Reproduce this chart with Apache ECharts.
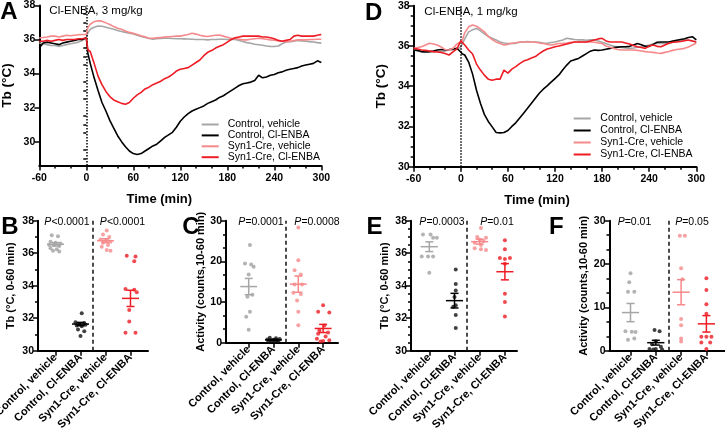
<!DOCTYPE html>
<html><head><meta charset="utf-8">
<script src="https://cdn.jsdelivr.net/npm/echarts@6/dist/echarts.min.js"></script>
<style>html,body{margin:0;padding:0;background:#fff}#c{width:725px;height:428px}</style>
</head><body><div id="c"></div>
<script>
// ---------- DATA ----------
const groups = ['Control, vehicle', 'Control, Cl-ENBA', 'Syn1-Cre, vehicle', 'Syn1-Cre, Cl-ENBA'];

const minutes = [-60,-55,-50,-45,-40,-35,-30,-25,-20,-15,-10,-5,
  0,2,
  5,10,15,20,25,30,35,40,45,50,55,60,
  65,70,75,80,85,90,95,100,105,110,115,120,
  125,130,135,140,145,150,155,160,165,170,175,180,
  185,190,195,200,205,210,215,220,225,230,235,240,
  245,250,255,260,265,270,275,280,285,290,295,300];

// Panel A (3 mg/kg) body temperature
const a_ctlVeh = [35.8,35.75,35.7,35.65,35.65,35.6,35.65,35.7,35.75,35.8,35.85,35.95,
  36.1,36.4,
  36.6,36.72,36.8,36.78,36.72,36.66,36.6,36.53,36.47,36.42,36.37,36.33,
  36.25,36.18,36.12,36.06,36.02,36.05,36.07,36.08,36.08,36.06,36.05,36.05,
  36.04,36.03,36.02,36.0,36.0,36.0,35.98,36.0,36.0,36.02,36.02,36.0,
  36.02,36.0,35.95,35.88,35.82,35.78,35.72,35.69,35.66,35.62,35.6,35.59,
  35.62,35.75,35.86,35.88,35.9,35.94,35.92,35.9,35.88,35.86,35.82,35.79];
const a_ctlDrug = [35.5,35.8,35.85,35.8,35.75,35.7,35.8,35.85,35.9,35.95,36.0,36.0,
  36.1,35.2,
  34.6,33.75,33.0,32.3,31.8,31.25,30.8,30.35,30.0,29.7,29.45,29.3,
  29.25,29.3,29.45,29.6,29.75,29.85,30.05,30.25,30.4,30.55,30.85,31.2,
  31.45,31.65,31.8,31.9,32.0,32.1,32.25,32.35,32.45,32.6,32.7,32.85,
  33.0,33.15,33.3,33.4,33.45,33.5,33.6,33.9,33.75,33.8,33.9,33.95,
  34.05,34.1,34.2,34.25,34.3,34.35,34.45,34.5,34.55,34.6,34.75,34.65];
const a_synVeh = [36.1,36.12,36.15,36.2,36.2,36.15,36.2,36.25,36.22,36.25,36.28,36.3,
  36.3,36.7,
  36.9,37.05,37.1,37.08,36.98,36.88,36.76,36.66,36.6,36.5,36.42,36.37,
  36.3,36.22,36.16,36.08,36.08,36.1,36.12,36.14,36.16,36.18,36.2,36.2,
  36.25,36.3,36.37,36.32,36.25,36.2,36.18,36.22,36.25,36.27,36.2,36.14,
  36.08,36.06,36.02,35.98,35.98,36.02,36.05,36.08,36.05,36.02,35.98,35.96,
  35.93,35.9,35.88,35.9,35.94,35.98,35.98,35.98,36.0,36.0,36.02,36.02];
const a_synDrug = [35.9,35.9,35.95,35.9,35.95,36.0,35.95,36.0,36.0,36.0,36.05,36.05,
  36.1,35.4,
  35.3,34.6,33.85,33.35,32.95,32.65,32.45,32.35,32.25,32.2,32.3,32.55,
  32.75,32.9,33.1,33.2,33.35,33.45,33.55,33.7,33.8,33.95,34.15,34.25,
  34.3,34.35,34.5,34.65,34.8,35.05,35.25,35.35,35.5,35.6,35.7,35.85,
  36.0,36.1,36.15,36.2,36.2,36.2,36.2,36.2,36.15,36.15,36.1,36.05,
  35.95,35.9,35.95,36.0,36.2,36.25,36.2,36.2,36.2,36.2,36.25,36.3];

// Panel D (1 mg/kg) body temperature
const d_ctlVeh = [35.8,35.75,35.7,35.7,35.7,35.7,35.75,35.7,35.75,35.8,35.8,35.85,
  35.95,36.1,
  36.35,36.7,36.8,36.87,36.75,36.6,36.47,36.38,36.3,36.2,36.15,36.12,
  36.12,36.13,36.18,36.2,36.22,36.2,36.2,36.18,36.15,36.13,36.17,36.2,
  36.25,36.3,36.38,36.35,36.32,36.3,36.3,36.28,36.3,36.3,36.25,36.18,
  36.12,36.05,35.98,35.95,35.92,35.9,35.88,35.9,35.94,35.96,36.0,36.05,
  36.1,36.13,36.13,36.12,36.13,36.18,36.22,36.28,36.3,36.28,36.25,36.2];
const d_ctlDrug = [35.8,35.78,35.72,35.7,35.72,35.75,35.8,35.82,35.8,35.82,35.85,35.88,
  35.7,35.6,
  35.55,35.2,34.6,33.8,33.15,32.6,32.25,31.98,31.7,31.68,31.7,31.8,
  32.0,32.18,32.42,32.66,32.9,33.15,33.4,33.65,33.85,34.02,34.2,34.38,
  34.56,34.82,35.05,35.25,35.32,35.38,35.5,35.62,35.74,35.8,35.78,35.8,
  35.84,35.88,35.92,35.94,35.96,35.96,35.98,36.05,36.12,36.06,35.98,35.98,
  36.08,36.18,36.2,36.2,36.2,36.24,36.28,36.32,36.36,36.42,36.46,36.3];
const d_synVeh = [35.88,35.92,35.96,36.05,36.13,36.1,36.05,35.95,35.82,35.8,35.88,36.1,
  36.2,36.3,
  36.65,36.95,37.04,36.98,36.85,36.7,36.48,36.32,36.2,36.12,36.05,36.08,
  36.13,36.16,36.2,36.2,36.2,36.2,36.18,36.15,36.12,36.08,36.05,36.08,
  36.12,36.13,36.15,36.18,36.2,36.2,36.2,36.2,36.2,36.18,36.15,36.12,
  36.0,35.94,35.88,35.82,35.8,35.8,35.8,35.8,35.78,35.75,35.72,35.7,
  35.68,35.65,35.63,35.68,35.72,35.78,35.82,35.85,35.88,35.95,36.05,36.13];
const d_synDrug = [35.88,35.85,35.8,35.78,35.75,35.72,35.7,35.68,35.62,35.55,35.7,35.85,
  36.25,36.2,
  36.05,35.8,35.6,35.1,34.8,34.55,34.35,34.3,34.35,34.35,34.8,34.65,
  34.85,34.97,35.12,35.25,35.32,35.4,35.47,35.62,35.75,35.85,35.9,35.96,
  36.0,36.05,36.1,36.15,36.2,36.2,36.2,36.2,36.25,36.3,36.35,36.38,
  36.25,36.2,36.2,36.2,36.2,36.15,36.1,36.02,35.96,35.92,35.88,36.0,
  36.05,35.98,35.96,36.05,36.13,36.18,36.2,36.22,36.26,36.3,36.25,36.2];

const tempTicks = [30,32,34,36,38];
const tempMinorTicksA = [29,29.5,30.5,31,31.5,32.5,33,33.5,34.5,35,35.5,36.5,37,37.5];

// Panel B: Tb 0-60 min, 3 mg/kg
const b_values = [
  [37.1,37.05,36.7,36.65,36.6,36.5,36.5,36.45,36.3,36.25,36.15,36.1],
  [32.3,31.75,31.7,31.65,31.6,31.55,31.5,31.3,31.2,30.9],
  [37.4,37.15,37.0,36.85,36.8,36.7,36.65,36.5,36.4,36.2,36.15],
  [35.85,35.8,35.5,33.8,33.75,33.6,32.5,31.8,31.1,31.1]];
const b_jitter = [
  [-0.15,0.1,-0.2,0,0.2,-0.25,-0.05,0.15,-0.2,0.05,-0.1,0.15],
  [0.05,-0.2,0.15,-0.05,0.2,-0.15,0.05,-0.1,0.15,0],
  [0.05,-0.1,0.15,-0.2,0.05,0.2,-0.1,0.1,-0.15,0.05,0.2],
  [-0.15,0.2,0.15,-0.2,0.15,0.25,-0.05,-0.05,-0.2,0.2]];
const b_mean = [36.55,31.64,36.77,33.22];
const b_sem = [0.1,0.1,0.12,0.5];

// Panel C: activity 10-60 min, 3 mg/kg
const c_values = [
  [24.0,19.5,19.2,18.7,16.8,11.8,11.3,7.6,6.4,3.2],
  [1.2,1.1,0.9,0.8,0.7,0.6,0.5,0.4,0.3,0.3],
  [28.3,20.3,17.8,16.8,14.3,14.3,12.3,12.0,10.4,7.6,4.3],
  [9.2,7.6,7.4,4.2,3.0,2.5,2.2,1.5,1.0,0.6,0.4,0.3]];
const c_jitter = [
  [0.05,-0.15,0.1,0.2,0,0.15,-0.05,0.05,-0.1,0],
  [-0.15,0.1,0.25,-0.25,0,0.15,-0.1,0.2,-0.2,0.05],
  [0,0,-0.15,0.1,-0.15,0.15,-0.2,0.1,-0.05,0,0],
  [0,-0.2,0.25,0.05,-0.15,0.2,-0.2,0.1,-0.25,0.25,0,-0.1]];
const c_mean = [13.8,0.7,14.4,3.5];
const c_sem = [2.0,0.15,2.0,1.0];

// Panel E: Tb 0-60 min, 1 mg/kg
const e_values = [
  [37.15,37.15,36.95,36.95,35.8,35.8,35.8,34.8],
  [35.0,34.1,33.7,33.3,32.8,32.7,32.2,31.4],
  [37.55,37.0,36.95,36.85,36.75,36.65,36.5,36.3,36.25,36.2],
  [36.8,36.25,35.7,35.65,35.7,35.35,33.5,33.0,32.1]];
const e_jitter = [
  [-0.25,0.05,0.15,0.3,-0.3,-0.05,0.15,0],
  [0.05,0.05,0.05,0,0.05,-0.05,0.05,0.05],
  [0.05,-0.1,0.25,0,0.15,-0.2,0.05,-0.2,0.05,0.25],
  [0,0,-0.2,0,0.2,0,0,0,0]];
const e_mean = [36.4,33.08,36.71,34.86];
const e_sem = [0.3,0.45,0.15,0.5];

// Panel F: activity 10-60 min, 1 mg/kg
const f_values = [
  [17.9,15.8,13.6,13.6,4.5,4.4,4.3,2.8,2.5],
  [4.8,4.5,2.2,1.5,0.9,0.4,0.4,0.3,0.3],
  [26.5,26.5,19.0,16.5,7.3,5.9,2.8,2.1],
  [16.7,14.0,10.7,8.5,3.2,3.2,3.2,1.9,1.9,0.4]];
const f_jitter = [
  [0,-0.05,-0.1,0.15,-0.2,0.05,0.2,0.15,-0.1],
  [-0.05,0.15,0,-0.15,0.2,-0.25,0,0.25,-0.1],
  [-0.05,0.15,0,0.05,0,0,0,0],
  [0,0,0,0,-0.2,0,0.2,-0.2,0.15,0]];
const f_mean = [8.8,1.85,13.5,6.2];
const f_sem = [2.1,0.55,2.9,1.9];

const pLabels = [['P<0.0001','P<0.0001'],['P=0.0001','P=0.0008'],['P=0.0003','P=0.01'],['P=0.01','P=0.05']];

// ---------- STYLE ----------
const FONT = '"Liberation Sans", Arial, sans-serif';
const lineColors = ['#a6a6a6', '#000000', '#f5898b', '#ee1c24'];
const dotColors = ['#a0a0a0', '#111111', '#f5898b', '#ee1c24'];
const AX = {color:'#000', width:2};
const TK = {color:'#000', width:1.5};
const tickLabel = {color:'#000', fontFamily:FONT, fontWeight:'bold', fontSize:10.5};

function timeX(gi, padR) {
  return {type:'value', gridIndex:gi, min:-60, max:300, interval:60,
    axisLine:{onZero:false, lineStyle:AX},
    axisTick:{length:5, lineStyle:TK},
    minorTick:{show:true, splitNumber:3, length:3, lineStyle:TK},
    splitLine:{show:false}, minorSplitLine:{show:false},
    axisLabel:Object.assign({margin:7}, tickLabel),
    name:'Time (min)', nameLocation:'middle', nameGap:27,
    nameTextStyle:{color:'#000', fontFamily:FONT, fontWeight:'bold', fontSize:13, padding:[0,padR,0,0]}};
}
function catX(gi, min, max) {
  return {type:'value', gridIndex:gi, min:min, max:max,
    axisLine:{onZero:false, lineStyle:AX},
    axisTick:{length:5, customValues:[1,2,3,4], lineStyle:TK},
    axisLabel:Object.assign({customValues:[1,2,3,4], rotate:45, margin:5,
      formatter:function(v){return groups[Math.round(v)-1];}}, tickLabel, {fontSize:11}),
    splitLine:{show:false}};
}
function valY(gi, min, max, interval, minorSplit, name, gap) {
  return {type:'value', gridIndex:gi, min:min, max:max, interval:interval, position:'left',
    axisLine:{show:true, onZero:false, lineStyle:AX},
    axisTick:{length:5, lineStyle:TK},
    minorTick:{show:true, splitNumber:minorSplit, length:3, lineStyle:TK},
    splitLine:{show:false}, minorSplitLine:{show:false},
    axisLabel:Object.assign({margin:4}, tickLabel),
    name:name, nameLocation:'middle', nameGap:gap, nameRotate:90,
    nameTextStyle:{color:'#000', fontFamily:FONT, fontWeight:'bold', fontSize:11}};
}

const grids = [
  {left:39.3, top:5.5, width:282, height:160},    // A
  {left:413.7, top:5.7, width:282.6, height:161}, // D
  {left:38, top:220.7, width:110, height:130},    // B
  {left:226, top:220.7, width:112, height:122},   // C
  {left:411, top:220.7, width:106, height:130},   // E
  {left:609.5, top:220.7, width:115.5, height:130}// F
].map(g => Object.assign({containLabel:false, outerBoundsMode:'none'}, g));

const xAxes = [timeX(0, 42), timeX(1, 36),
  catX(2, 0.3, 4.7), catX(3, 0.085, 4.6), catX(4, 0.274, 4.48), catX(5, 0.17, 4.735)];

const yAxes = [
  {type:'value', gridIndex:0, min:28.6, max:38, position:'left',
    axisLine:{show:true, onZero:false, lineStyle:AX},
    axisTick:{length:5, customValues:tempTicks, lineStyle:TK},
    axisLabel:Object.assign({customValues:tempTicks, margin:4}, tickLabel),
    splitLine:{show:false},
    name:'Tb (°C)', nameLocation:'middle', nameGap:25, nameRotate:90,
    nameTextStyle:{color:'#000', fontFamily:FONT, fontWeight:'bold', fontSize:13.5}},
  {type:'value', gridIndex:0, min:28.6, max:38, position:'left',
    axisLine:{show:false}, axisLabel:{show:false}, splitLine:{show:false},
    axisTick:{show:true, length:3, customValues:tempMinorTicksA, lineStyle:TK}},
  Object.assign(valY(1, 30, 38, 2, 4, 'Tb (°C)', 25), {nameTextStyle:{color:'#000', fontFamily:FONT, fontWeight:'bold', fontSize:13.5}}),
  valY(2, 30, 38, 2, 2, 'Tb (°C, 0-60 min)', 22),
  valY(3, 0, 30, 10, 3, 'Activity (counts,10-60 min)', 20),
  valY(4, 30, 38, 2, 4, 'Tb (°C, 0-60 min)', 21),
  valY(5, 0, 30, 10, 3, 'Activity (counts,10-60 min)', 20)
];

const series = [];
function addLines(xi, yi, arrs, withZero) {
  arrs.forEach(function(vals, k) {
    const s = {type:'line', name:groups[k], xAxisIndex:xi, yAxisIndex:yi, showSymbol:false, symbol:'none',
      lineStyle:{color:lineColors[k], width:1.6}, itemStyle:{color:lineColors[k]},
      data: minutes.map(function(t, i){return [t, vals[i]];}), z:3+k};
    if (k === 0 && withZero) {
      s.markLine = {silent:true, symbol:'none', label:{show:false},
        lineStyle:{type:'dotted', color:'#000', width:1.5}, data:[{xAxis:0}]};
    }
    series.push(s);
  });
}
addLines(0, 0, [a_ctlVeh, a_ctlDrug, a_synVeh, a_synDrug], true);
addLines(1, 2, [d_ctlVeh, d_ctlDrug, d_synVeh, d_synDrug], true);

function addDots(xi, yi, values, jitter, means, sems, tag) {
  values.forEach(function(vals, k) {
    series.push({type:'scatter', name:tag + k, xAxisIndex:xi, yAxisIndex:yi, symbolSize:4,
      itemStyle:{color:dotColors[k]}, z:3,
      data: vals.map(function(v, i){return [k + 1 + jitter[k][i], v];})});
  });
  series.push({type:'custom', name:tag + 'mean', xAxisIndex:xi, yAxisIndex:yi, z:5,
    data: means.map(function(m, i){return [i + 1, m, sems[i], i];}),
    renderItem: function(params, api) {
      const x = api.value(0), m = api.value(1), s = api.value(2), c = lineColors[api.value(3)];
      const p = function(a, b){return api.coord([a, b]);};
      const st = {stroke:c, lineWidth:1.5};
      const seg = function(a, b){return {type:'line', shape:{x1:a[0], y1:a[1], x2:b[0], y2:b[1]}, style:st};};
      return {type:'group', children:[
        seg(p(x-0.34, m), p(x+0.34, m)),
        seg(p(x, m+s), p(x, m-s)),
        seg(p(x-0.16, m+s), p(x+0.16, m+s)),
        seg(p(x-0.16, m-s), p(x+0.16, m-s))]};
    },
    markLine:{silent:true, symbol:'none', label:{show:false},
      lineStyle:{type:[4,3], color:'#111', width:1.5}, data:[{xAxis:2.5}]}
  });
}
addDots(2, 3, b_values, b_jitter, b_mean, b_sem, 'B');
addDots(3, 4, c_values, c_jitter, c_mean, c_sem, 'C');
addDots(4, 5, e_values, e_jitter, e_mean, e_sem, 'E');
addDots(5, 6, f_values, f_jitter, f_mean, f_sem, 'F');

function legend(left, top, gap, pad) {
  return {left:left, top:top, padding:0, orient:'vertical', icon:'rect', itemWidth:17, itemHeight:2, itemGap:gap,
    selectedMode:false, data:groups,
    textStyle:{fontFamily:FONT, fontSize:10.5, color:'#000', lineHeight:10, padding:[0,0,0,pad]}};
}

function txt(x, y, text, size, weight) {
  return {type:'text', x:x, y:y, silent:true,
    style:{text:text, fontFamily:FONT, fontSize:size, fontWeight:weight, fill:'#000',
      align:'center', verticalAlign:'middle', textAlign:'center', textVerticalAlign:'middle'}};
}
function ptxt(x, y, text) {
  return {type:'text', x:x, y:y, silent:true,
    style:{text:'{i|' + text.charAt(0) + '}' + text.slice(1), fontFamily:FONT, fontSize:10.5, fill:'#000',
      align:'center', verticalAlign:'middle', textAlign:'center', textVerticalAlign:'middle',
      rich:{i:{fontStyle:'italic', fontFamily:FONT, fontSize:10.5, fill:'#000'}}}};
}

const graphic = [
  txt(9, 12.5, 'A', 24, 'bold'), txt(373.7, 13, 'D', 24, 'bold'),
  txt(10, 227, 'B', 24, 'bold'), txt(191, 227, 'C', 24, 'bold'),
  txt(374.5, 227, 'E', 24, 'bold'), txt(556.3, 227.5, 'F', 24, 'bold'),
  txt(96, 11, 'Cl-ENBA, 3 mg/kg', 11.5, 'normal'), txt(471, 11.5, 'Cl-ENBA, 1 mg/kg', 11.5, 'normal'),
  ptxt(67, 222, pLabels[0][0]), ptxt(122.5, 222, pLabels[0][1]),
  ptxt(261, 222, pLabels[1][0]), ptxt(317, 222, pLabels[1][1]),
  ptxt(442, 222, pLabels[2][0]), ptxt(497, 222, pLabels[2][1]),
  ptxt(634.5, 222, pLabels[3][0]), ptxt(692, 222, pLabels[3][1])
];

const chart = echarts.init(document.getElementById('c'), null, {renderer:'canvas'});
chart.setOption({
  animation:false, backgroundColor:'#fff',
  textStyle:{fontFamily:FONT},
  grid:grids, xAxis:xAxes, yAxis:yAxes, series:series,
  legend:[legend(201.7, 119, -0.1, 4), legend(573.7, 113, 1.0, 4.6)],
  graphic:graphic
});
</script>
</body></html>
